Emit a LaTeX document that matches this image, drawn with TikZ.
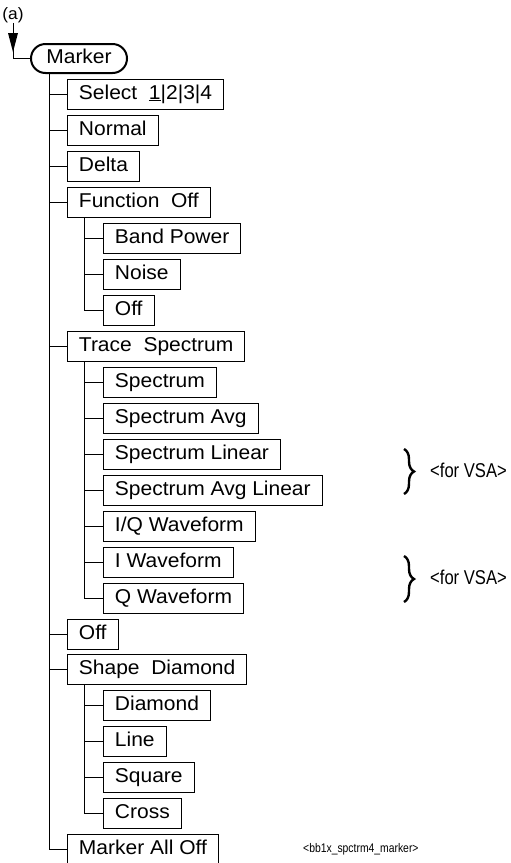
\documentclass[tikz,border=0pt]{standalone}
\usepackage{fontspec}
\setmainfont[FakeStretch=1.05]{Liberation Sans}
\newfontfamily\narrowfont[FakeStretch=0.83]{Liberation Sans}
\usetikzlibrary{arrows.meta,decorations.pathreplacing}
\begin{document}
\begin{tikzpicture}[x=1pt,y=1pt,
  box/.style={draw, line width=0.9pt, anchor=west, minimum height=30, inner xsep=11.5, inner ysep=0,
    font=\fontsize{20}{24}\selectfont, text height=14.5, text depth=4.5},
  rootbox/.style={draw, line width=2pt, rounded corners=14.5, minimum width=96, minimum height=29, inner sep=0,
    font=\fontsize{20}{24}\selectfont, text height=14.5, text depth=4.5},
  link/.style={line width=0.9pt},
  note/.style={font=\narrowfont\fontsize{20}{24}\selectfont, anchor=west, inner sep=0},
  smallnote/.style={font=\narrowfont\fontsize{12.5}{15}\selectfont, anchor=west, inner sep=0},
  bracket/.style={decorate, decoration={brace, amplitude=10, aspect=0.5}, line width=2.4pt}]
\useasboundingbox (0,0) rectangle (511,-863);

% label and root
\node[inner sep=0, font=\fontsize{16.5}{20}\selectfont] (lbl) at (13,-15) {(a)};
\node[rootbox] (mk) at (79,-58.5) {Marker};
\coordinate (tip) at (13,-52);
\draw[link] (lbl.south) -- (tip);
\fill[black] (tip) -- ++(-5,19) -- ++(10,0) -- cycle;
\draw[link] (tip) |- (mk.west);

% level 1
\node[box] (sel) at (67,-94) {Select\ \ \underline{1}|2|3|4};
\node[box] (nor) at (67,-130) {Normal};
\node[box] (del) at (67,-166) {Delta};
\node[box] (fun) at (67,-202) {Function\ \ Off};
\node[box] (tra) at (67,-346) {Trace\ \ Spectrum};
\node[box] (off) at (67,-634) {Off};
\node[box] (sha) at (67,-669.5) {Shape\ \ Diamond};
\node[box] (mao) at (67,-849) {Marker All Off};

% level 2 : function
\node[box] (bp) at (103,-238) {Band Power};
\node[box] (noi) at (103,-274) {Noise};
\node[box] (foff) at (103,-310) {Off};

% level 2 : trace
\node[box] (s1) at (103,-382) {Spectrum};
\node[box] (s2) at (103,-418) {Spectrum Avg};
\node[box] (s3) at (103,-454) {Spectrum Linear};
\node[box] (s4) at (103,-490) {Spectrum Avg Linear};
\node[box] (s5) at (103,-526) {I/Q Waveform};
\node[box] (s6) at (103,-562) {I Waveform};
\node[box] (s7) at (103,-598) {Q Waveform};

% level 2 : shape
\node[box] (dia) at (103,-705) {Diamond};
\node[box] (lin) at (103,-741) {Line};
\node[box] (squ) at (103,-777) {Square};
\node[box] (cro) at (103,-813) {Cross};

% trunks
\coordinate (t0) at (49,-73);
\draw[link] (t0) |- (mao.west);
\foreach \n in {sel,nor,del,fun,tra,off,sha}
  \draw[link] (\n.west) -- (\n.west -| t0);

\coordinate (t1) at ([xshift=17]fun.south west);
\draw[link] (t1) |- (foff.west);
\foreach \n in {bp,noi}
  \draw[link] (\n.west) -- (\n.west -| t1);

\coordinate (t2) at ([xshift=17]tra.south west);
\draw[link] (t2) |- (s7.west);
\foreach \n in {s1,s2,s3,s4,s5,s6}
  \draw[link] (\n.west) -- (\n.west -| t2);

\coordinate (t3) at ([xshift=17]sha.south west);
\draw[link] (t3) |- (cro.west);
\foreach \n in {dia,lin,squ}
  \draw[link] (\n.west) -- (\n.west -| t3);

% braces and notes
\coordinate (b1a) at (404,-449);
\coordinate (b1b) at (404,-494);
\draw[bracket] (b1a) -- (b1b);
\node[note] (vsa1) at (430,-470) {<for VSA>};
\coordinate (b2a) at (404,-556);
\coordinate (b2b) at (404,-602);
\draw[bracket] (b2a) -- (b2b);
\node[note] (vsa2) at (430,-577) {<for VSA>};

\node[smallnote] (ref) at (303,-849) {<bb1x\_spctrm4\_marker>};
\end{tikzpicture}
\end{document}
